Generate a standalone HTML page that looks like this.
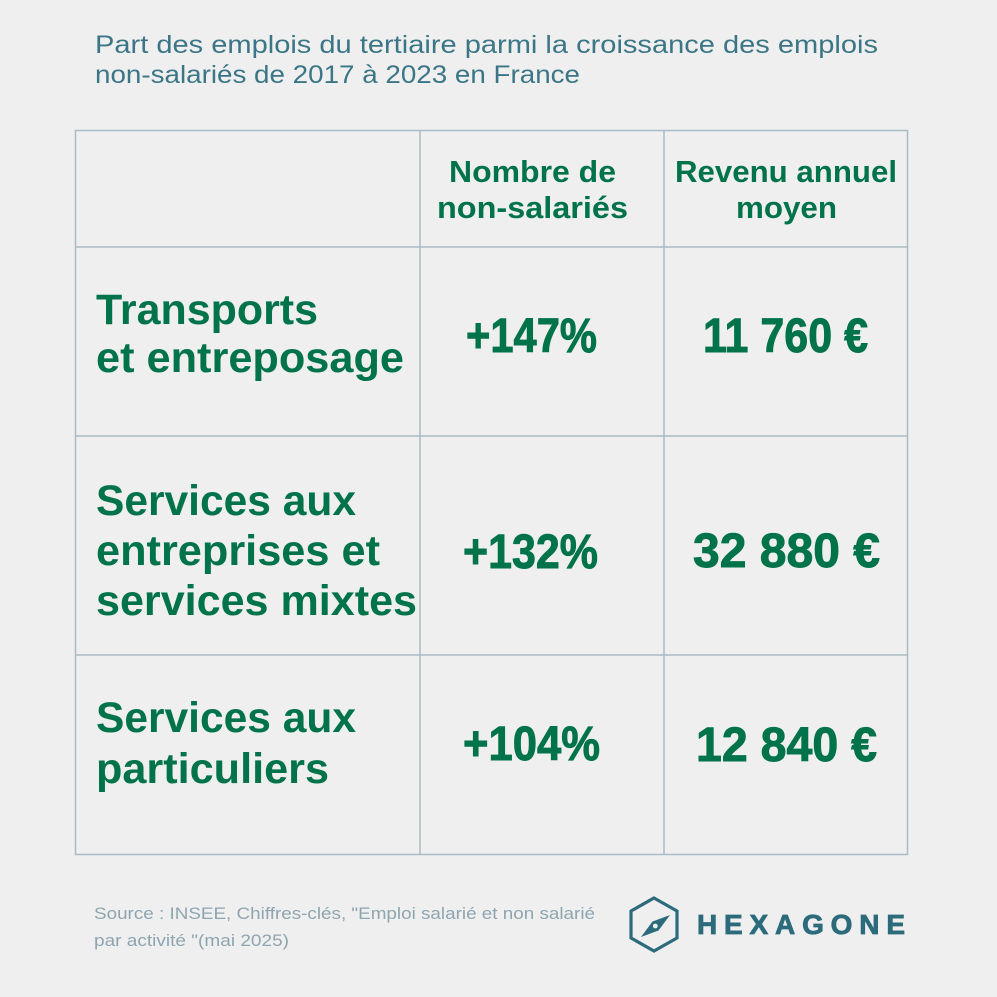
<!DOCTYPE html>
<html><head><meta charset="utf-8"><style>
html,body{margin:0;padding:0;background:#efefef;}
svg{display:block;}
</style></head><body>
<svg width="997" height="997" viewBox="0 0 997 997" xmlns="http://www.w3.org/2000/svg">
<rect x="0" y="0" width="997" height="997" fill="#efefef"/>
<g font-family="'Liberation Sans', sans-serif">
<text x="95" y="53" font-size="25" fill="#3b7686" textLength="783" lengthAdjust="spacingAndGlyphs">Part des emplois du tertiaire parmi la croissance des emplois</text>
<text x="95" y="83" font-size="25" fill="#3b7686" textLength="485" lengthAdjust="spacingAndGlyphs">non-salariés de 2017 à 2023 en France</text>
</g>
<g stroke="#a9bbc4" stroke-width="1.5" fill="none">
<rect x="75.5" y="130.5" width="832" height="724"/>
<line x1="420" y1="130" x2="420" y2="855"/>
<line x1="664" y1="130" x2="664" y2="855"/>
<line x1="75" y1="247" x2="908" y2="247"/>
<line x1="75" y1="436" x2="908" y2="436"/>
<line x1="75" y1="655" x2="908" y2="655"/>
</g>
<g font-family="'Liberation Sans', sans-serif" font-weight="bold" fill="#00734b">
<text x="449" y="182" font-size="31" textLength="167" lengthAdjust="spacingAndGlyphs">Nombre de</text>
<text x="437" y="218" font-size="31" textLength="191" lengthAdjust="spacingAndGlyphs">non-salariés</text>
<text x="675" y="182" font-size="31" textLength="222" lengthAdjust="spacingAndGlyphs">Revenu annuel</text>
<text x="736" y="218" font-size="31" textLength="101" lengthAdjust="spacingAndGlyphs">moyen</text>

<text x="96" y="324" font-size="43" textLength="222" lengthAdjust="spacingAndGlyphs">Transports</text>
<text x="96" y="372" font-size="43" textLength="308" lengthAdjust="spacingAndGlyphs">et entreposage</text>

<text x="96" y="515" font-size="43" textLength="260" lengthAdjust="spacingAndGlyphs">Services aux</text>
<text x="96" y="565" font-size="43" textLength="284" lengthAdjust="spacingAndGlyphs">entreprises et</text>
<text x="96" y="615" font-size="43" textLength="321" lengthAdjust="spacingAndGlyphs">services mixtes</text>

<text x="96" y="732" font-size="43" textLength="260" lengthAdjust="spacingAndGlyphs">Services aux</text>
<text x="96" y="783" font-size="43" textLength="233" lengthAdjust="spacingAndGlyphs">particuliers</text>

<g stroke="#00734b" stroke-width="0.9">
<text x="466" y="352" font-size="48" textLength="131" lengthAdjust="spacingAndGlyphs">+147%</text>
<text x="703" y="352" font-size="48" textLength="165" lengthAdjust="spacingAndGlyphs">11 760 €</text>
<text x="463" y="568" font-size="48" textLength="135" lengthAdjust="spacingAndGlyphs">+132%</text>
<text x="693" y="567" font-size="48" textLength="187" lengthAdjust="spacingAndGlyphs">32 880 €</text>
<text x="463" y="760" font-size="48" textLength="137" lengthAdjust="spacingAndGlyphs">+104%</text>
<text x="696" y="761" font-size="48" textLength="181" lengthAdjust="spacingAndGlyphs">12 840 €</text>
</g>
</g>
<g font-family="'Liberation Sans', sans-serif" fill="#8ea5af">
<text x="94" y="919" font-size="17" textLength="501" lengthAdjust="spacingAndGlyphs">Source : INSEE, Chiffres-clés, "Emploi salarié et non salarié</text>
<text x="94" y="946" font-size="17" textLength="195" lengthAdjust="spacingAndGlyphs">par activité "(mai 2025)</text>
</g>
<g>
<polygon points="654,898 677,911 677,938 654,951 631,938 631,911" fill="none" stroke="#2c6b7b" stroke-width="3.2" stroke-linejoin="miter"/>
<polygon points="641,937 652.5,921.5 670,915 658.5,930.5" fill="#2c6b7b"/>
<circle cx="655.3" cy="926" r="2.4" fill="#efefef"/>
<text x="697" y="934" font-family="'Liberation Sans', sans-serif" font-weight="bold" font-size="28" fill="#2c6b7b" stroke="#2c6b7b" stroke-width="0.8" textLength="208" lengthAdjust="spacing">HEXAGONE</text>
</g>
</svg>
</body></html>
